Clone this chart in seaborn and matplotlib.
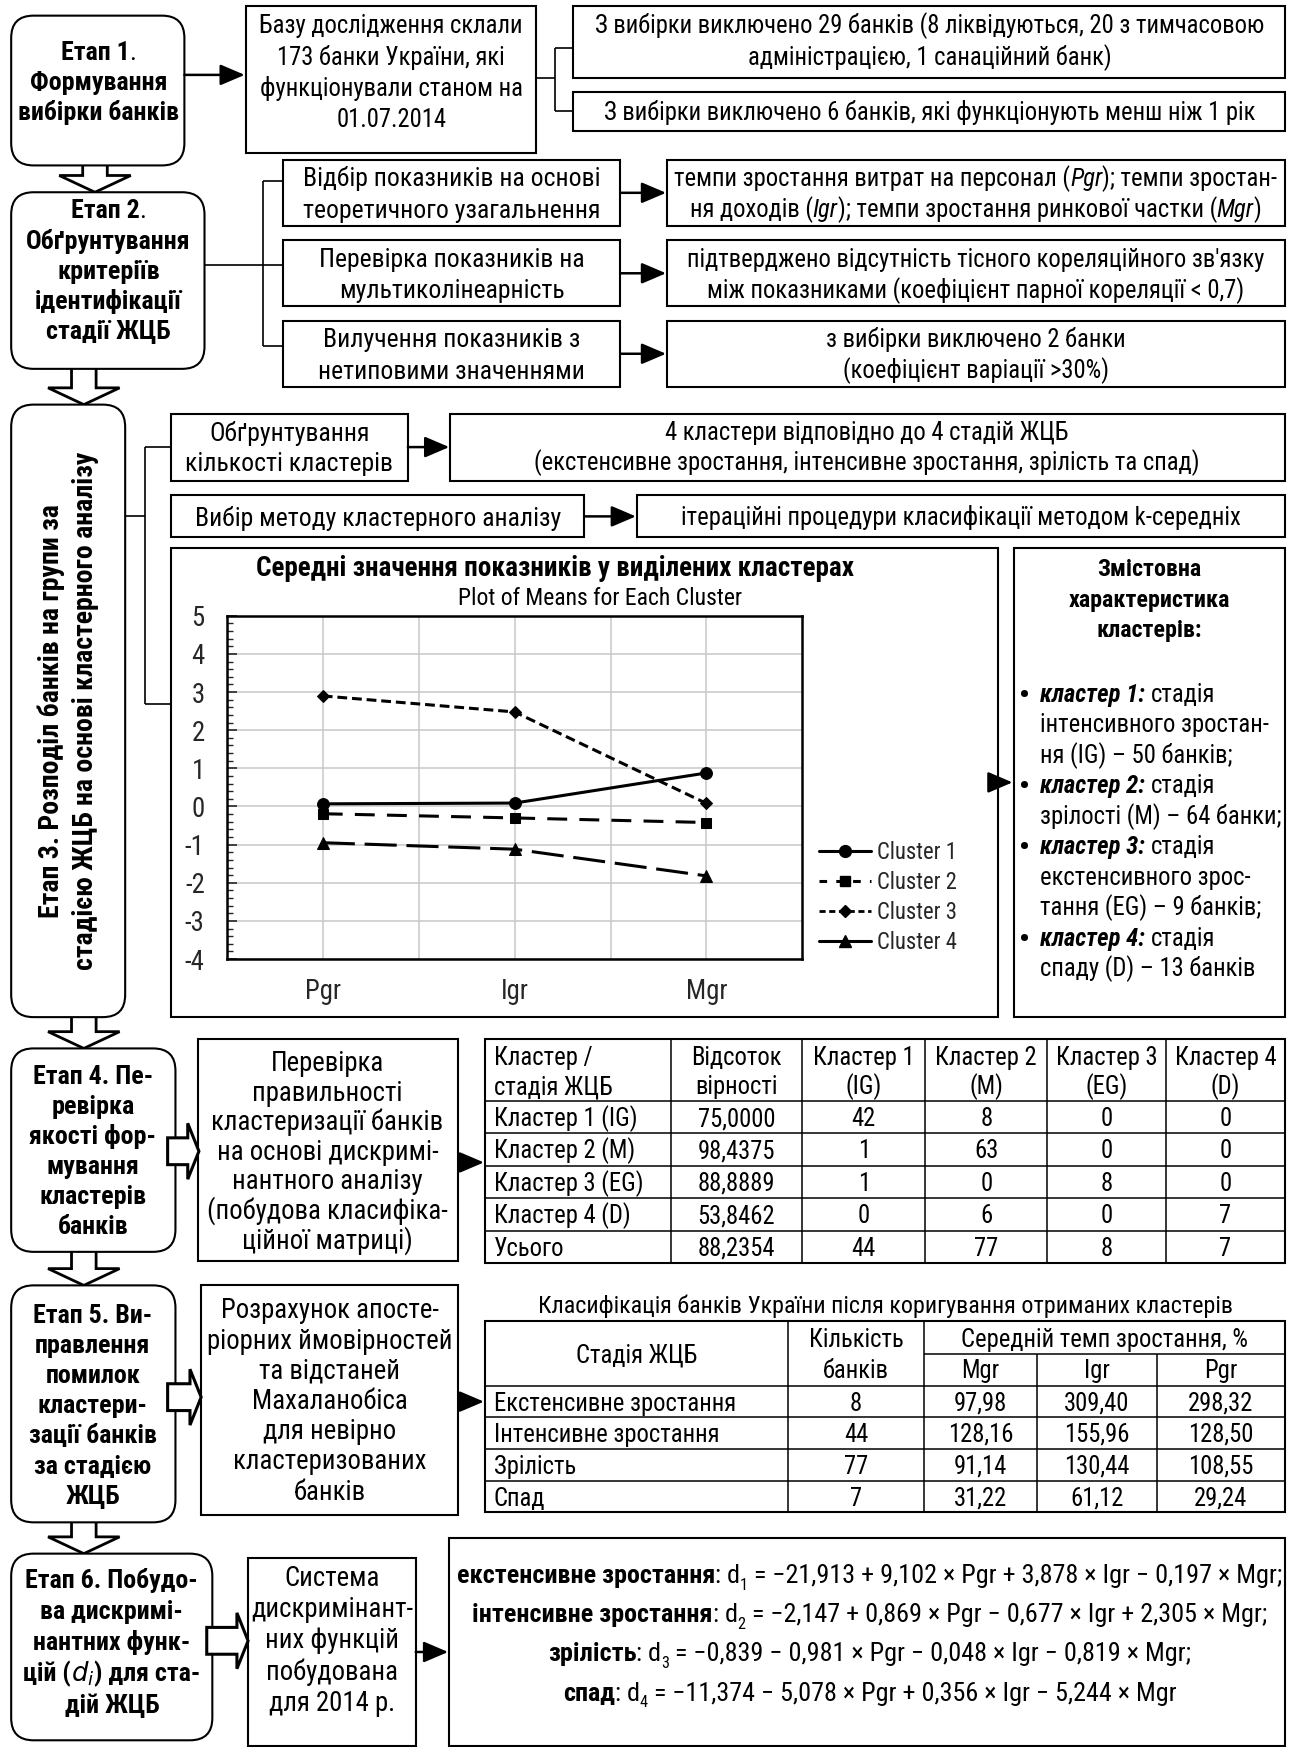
import numpy as np
import pandas as pd
import matplotlib
matplotlib.use("Agg")
import matplotlib.pyplot as plt
import seaborn as sns
from matplotlib import font_manager as fm
from matplotlib.patches import FancyBboxPatch, Rectangle, Polygon
from matplotlib.lines import Line2D
from matplotlib.transforms import ScaledTranslation
from matplotlib.ticker import MultipleLocator

# ---------------- data ----------------
features = ["Pgr", "Igr", "Mgr"]
cluster_labels = ["Cluster 1", "Cluster 2", "Cluster 3", "Cluster 4"]
cluster1_means = [0.07, 0.09, 0.88]
cluster2_means = [-0.19, -0.30, -0.42]
cluster3_means = [2.90, 2.48, 0.08]
cluster4_means = [-0.95, -1.12, -1.82]
y_ticks = [-4, -3, -2, -1, 0, 1, 2, 3, 4, 5]

matrix_columns = ["Кластер /\nстадія ЖЦБ", "Відсоток\nвірності", "Кластер 1\n(IG)",
                  "Кластер 2\n(M)", "Кластер 3\n(EG)", "Кластер 4\n(D)"]
matrix_rows = ["Кластер 1 (IG)", "Кластер 2 (M)", "Кластер 3 (EG)", "Кластер 4 (D)", "Усього"]
matrix_percent = ["75,0000", "98,4375", "88,8889", "53,8462", "88,2354"]
matrix_c1 = [42, 1, 1, 0, 44]
matrix_c2 = [8, 63, 0, 6, 77]
matrix_c3 = [0, 0, 8, 0, 8]
matrix_c4 = [0, 0, 0, 7, 7]

stage_names = ["Екстенсивне зростання", "Інтенсивне зростання", "Зрілість", "Спад"]
stage_bank_counts = [8, 44, 77, 7]
stage_mgr = ["97,98", "128,16", "91,14", "31,22"]
stage_igr = ["309,40", "155,96", "130,44", "61,12"]
stage_pgr = ["298,32", "128,50", "108,55", "29,24"]

# ---------------- setup ----------------
sns.set_theme(style="white")
names = {f.name for f in fm.fontManager.ttflist}
FAM, STRETCH = "Liberation Sans", "normal"
if "Liberation Sans Narrow" in names:
    FAM = "Liberation Sans Narrow"
elif "Arial Narrow" in names:
    FAM = "Arial Narrow"
elif "Roboto Condensed" in names:
    FAM = "Roboto Condensed"
elif any(f.name == "DejaVu Sans" and f.stretch in ("condensed", "semi-condensed")
         for f in fm.fontManager.ttflist):
    FAM, STRETCH = "DejaVu Sans", "condensed"
plt.rcParams["font.family"] = [FAM, "DejaVu Sans"]
plt.rcParams["font.stretch"] = STRETCH

W, H = 1157.0, 1563.0          # layout units
PXP = 1293.0 / W               # pixels per layout unit
DPI = 100
PT_P = PXP * 72 / DPI          # points per layout unit

fig = plt.figure(figsize=(12.93, 17.47), dpi=DPI)
fig.patch.set_facecolor("white")
ax = fig.add_axes([0, 0, 1, 1])
ax.set_xlim(0, W)
ax.set_ylim(H, 0)
ax.axis("off")
renderer = fig.canvas.get_renderer()

BASE_KW = dict(family=[FAM, "DejaVu Sans"], fontstretch=STRETCH, color="black")

_t = ax.text(0, 0, "функціонували станом на", fontsize=18, **BASE_KW)
_w = _t.get_window_extent(renderer).width
_t.remove()
SF = min(1.3, max(0.7, 237 * PXP / _w))

_space_cache = {}


def _kw(size, st):
    kw = dict(BASE_KW)
    kw["fontsize"] = size * st.get("scale", 1.0)
    kw["fontweight"] = st.get("w", "normal")
    kw["fontstyle"] = st.get("s", "normal")
    return kw


def _space(kw):
    key = (kw["fontsize"], kw["fontweight"], kw["fontstyle"])
    if key not in _space_cache:
        a = ax.text(0, 0, "n n", **kw)
        b = ax.text(0, 0, "nn", **kw)
        _space_cache[key] = a.get_window_extent(renderer).width - b.get_window_extent(renderer).width
        a.remove()
        b.remove()
    return _space_cache[key]


def rich(x, y, segs, ha="center", size=18.0, raw=False):
    if isinstance(segs, str):
        segs = [(segs, {})]
    size_pt = size if raw else size * SF
    ybase = y + 0.36 * size_pt / PT_P
    items, total = [], 0.0
    for s, st in segs:
        kw = _kw(size_pt, st)
        lead = len(s) - len(s.lstrip(" "))
        trail = len(s) - len(s.rstrip(" "))
        core = s.strip(" ")
        sp = _space(kw) if (lead or trail) else 0.0
        t = None
        w = 0.0
        if core:
            t = ax.text(x, ybase, core, ha="left", va="baseline", zorder=6, **kw)
            w = t.get_window_extent(renderer).width
        items.append((t, total + lead * sp, st.get("dy", 0.0)))
        total += lead * sp + w + trail * sp
    start = {"center": -total / 2, "left": 0.0, "right": -total}[ha]
    for t, off, dy in items:
        if t is None:
            continue
        t.set_transform(ax.transData + ScaledTranslation((start + off) / DPI, -dy * PXP / DPI,
                                                         fig.dpi_scale_trans))
    return total / PXP


def block(x, ys, lines, ha="center", size=18.0, bold=False):
    for y, ln in zip(ys, lines):
        if isinstance(ln, str):
            ln = [(ln, {"w": "bold"} if bold else {})]
        rich(x, y, ln, ha=ha, size=size)


def box(x0, y0, x1, y1, rounded=False, r=20, lw=1.5):
    if rounded:
        p = FancyBboxPatch((x0, y0), x1 - x0, y1 - y0, boxstyle=f"round,pad=0,rounding_size={r}",
                           fc="white", ec="black", lw=lw, zorder=2)
    else:
        p = Rectangle((x0, y0), x1 - x0, y1 - y0, fc="white", ec="black", lw=lw, zorder=2)
    ax.add_patch(p)


def seg(xs, ys, lw=1.2, z=3):
    ax.plot(xs, ys, color="black", lw=lw, solid_capstyle="butt", zorder=z)


def arrow(x0, y0, x1, y1):
    ax.annotate("", xy=(x1, y1), xytext=(x0, y0),
                arrowprops=dict(arrowstyle="-|>,head_length=0.75,head_width=0.32", lw=1.8,
                                color="black", shrinkA=0, shrinkB=0, mutation_scale=20),
                zorder=4)


def hollow_down(cx, y0, y1, sw=22, hw=64, hh=15):
    yh = y1 - hh
    pts = [(cx - sw / 2, y0), (cx + sw / 2, y0), (cx + sw / 2, yh), (cx + hw / 2, yh), (cx, y1),
           (cx - hw / 2, yh), (cx - sw / 2, yh)]
    ax.add_patch(Polygon(pts, closed=True, fc="white", ec="black", lw=2.0, zorder=1,
                         joinstyle="miter"))


def hollow_right(cy, x0, x1, sh=24, hh=50, hl=10):
    xh = x1 - hl
    pts = [(x0, cy - sh / 2), (xh, cy - sh / 2), (xh, cy - hh / 2), (x1, cy), (xh, cy + hh / 2),
           (xh, cy + sh / 2), (x0, cy + sh / 2)]
    ax.add_patch(Polygon(pts, closed=True, fc="white", ec="black", lw=2.2, zorder=3,
                         joinstyle="miter"))


B = {"w": "bold"}
N = {}
I = {"s": "italic"}
BI = {"w": "bold", "s": "italic"}
SZ = 18.0
SZB = 19.0     # stage boxes (bold)
SZL = 19.5     # left-side description boxes
SZT = 18.0     # tables

# ---------------- row 1 ----------------
box(10, 14, 165, 148, rounded=True)
block(88, [45, 72, 99], [[("Етап 1", B), (".", N)], "Формування", "вибірки банків"], size=SZB, bold=True)
arrow(165, 67, 219, 67)
box(220, 5, 480, 137)
block(350, [22, 50, 78, 106], ["Базу дослідження склали", "173 банки України, які",
                               "функціонували станом на", "01.07.2014"], size=SZ)
seg([480, 497], [70, 70])
seg([497, 497], [43, 99])
seg([497, 513], [43, 43])
seg([497, 513], [99, 99])
box(513, 5, 1150, 70)
block(832, [22, 50], ["З вибірки виключено 29 банків (8 ліквідуються, 20 з тимчасовою",
                      "адміністрацією, 1 санаційний банк)"], size=SZ)
box(513, 82, 1150, 117)
block(832, [99], ["З вибірки виключено 6 банків, які функціонують менш ніж 1 рік"], size=SZ)
hollow_down(85, 140, 172)

# ---------------- row 2 ----------------
box(10, 172, 183, 330, rounded=True)
block(97, [187, 214, 241, 268, 295], [[("Етап 2", B), (".", N)], "Обґрунтування", "критеріїв",
                                      "ідентифікації", "стадії ЖЦБ"], size=SZB, bold=True)
seg([183, 235], [237, 237])
seg([235, 235], [162, 310])
for yy in (162, 237, 310):
    seg([235, 253], [yy, yy])
left2 = [["Відбір показників на основі", "теоретичного узагальнення"],
         ["Перевірка показників на", "мультиколінеарність"],
         ["Вилучення показників з", "нетиповими значеннями"]]
right2 = [[[("темпи зростання витрат на персонал (", N), ("Pgr", I), ("); темпи зростан-", N)],
           [("ня доходів (", N), ("Igr", I), ("); темпи зростання ринкової частки (", N), ("Mgr", I),
            (")", N)]],
          ["підтверджено відсутність тісного кореляційного зв'язку",
           "між показниками (коефіцієнт парної кореляції < 0,7)"],
          ["з вибірки виключено 2 банки", "(коефіцієнт варіації >30%)"]]
for k, (y0, y1) in enumerate([(143, 202), (215, 274), (287, 346)]):
    box(253, y0, 555, y1)
    box(597, y0, 1150, y1)
    yc = (y0 + y1) / 2
    arrow(555, yc, 596, yc)
    block(404, [yc - 14, yc + 14], left2[k], size=18.8)
    block(873, [yc - 14, yc + 14], right2[k], size=SZ)
hollow_down(75, 322, 362)

# ---------------- row 3 ----------------
box(10, 362, 112, 910, rounded=True)
ax.text(61, 636, "Етап 3. Розподіл банків на групи за\nстадією ЖЦБ на основі кластерного аналізу",
        rotation=90, ha="center", va="center", multialignment="center", fontweight="bold",
        fontsize=20.3 * SF, linespacing=1.3, zorder=6, **BASE_KW)
seg([112, 130], [462, 462])
seg([130, 130], [400, 630])
seg([130, 153], [400, 400])
seg([130, 153], [630, 630])
box(153, 370, 365, 430)
block(259, [386, 413], ["Обґрунтування", "кількості кластерів"], size=18.8)
arrow(365, 400, 402, 400)
box(403, 370, 1150, 430)
block(776, [386, 413], ["4 кластери відповідно до 4 стадій ЖЦБ",
                        "(екстенсивне зростання, інтенсивне зростання, зрілість та спад)"], size=SZ)
box(153, 443, 523, 480)
block(338, [462], ["Вибір методу кластерного аналізу"], size=18.8)
arrow(523, 462, 569, 462)
box(570, 443, 1150, 480)
block(860, [462], ["ітераційні процедури класифікації методом k-середніх"], size=SZ)

# chart container
box(153, 490, 893, 910)
rich(497, 507, [("Середні значення показників у виділених кластерах", B)], size=19.8)
rich(537, 534, "Plot of Means for Each Cluster", size=17.2)

PL, PR, PT, PB = 203, 718, 551, 858
axc = fig.add_axes([PL / W, 1 - PB / H, (PR - PL) / W, (PB - PT) / H])
df = pd.DataFrame({
    "feature": features * 4,
    "pos": [i + 0.5 for i in range(len(features))] * 4,
    "value": cluster1_means + cluster2_means + cluster3_means + cluster4_means,
    "cluster": sum([[c] * len(features) for c in cluster_labels], []),
})
sns.lineplot(data=df, x="pos", y="value", hue="cluster", style="cluster", ax=axc,
             palette=["black"] * 4, markers=["o", "s", "D", "^"],
             dashes=["", (6.5, 4), (3.2, 1.6), (10.5, 3.2)], linewidth=2.2, markersize=8,
             markeredgecolor="black", legend=False)
msizes = [8.5, 7, 6.5, 8]
for ln, ms in zip(axc.lines, msizes):
    ln.set_markersize(ms)
axc.set_xlim(0, 3)
axc.set_ylim(-4, 5)
axc.set_xticks([i + 0.5 for i in range(len(features))])
axc.set_xticklabels(features)
axc.set_xticks([1, 2], minor=True)
axc.set_yticks(y_ticks)
axc.set_yticklabels([str(v) for v in y_ticks])
axc.yaxis.set_minor_locator(MultipleLocator(0.2))
axc.grid(False)
axc.xaxis.grid(True, which="both", color="#c8c8c8", lw=1.1)
axc.yaxis.grid(True, which="major", color="#c8c8c8", lw=1.1)
axc.set_axisbelow(True)
axc.set_xlabel("")
axc.set_ylabel("")
for s in axc.spines.values():
    s.set_color("black")
    s.set_linewidth(1.8)
axc.tick_params(axis="x", which="both", length=0, pad=14, labelsize=19.5 * SF)
axc.tick_params(axis="y", which="major", direction="in", length=7, width=1.2, left=True,
                right=False, pad=16, labelsize=19.5 * SF)
axc.tick_params(axis="y", which="minor", direction="in", length=4, width=1, left=True, right=False)
for lab in axc.get_xticklabels() + axc.get_yticklabels():
    lab.set_fontfamily([FAM, "DejaVu Sans"])
    lab.set_fontstretch(STRETCH)
axc.set_facecolor("white")

handles = [
    Line2D([], [], color="black", lw=2.2, marker="o", ms=8.5),
    Line2D([], [], color="black", lw=2.2, marker="s", ms=7, dashes=(2.5, 3)),
    Line2D([], [], color="black", lw=2.0, marker="D", ms=6.5, dashes=(2.2, 1.3)),
    Line2D([], [], color="black", lw=2.2, marker="^", ms=8),
]
fig.legend(handles, cluster_labels, loc="upper left", bbox_to_anchor=(733 / W, 1 - 752 / H),
           frameon=False, handlelength=2.3, handletextpad=0.25, labelspacing=0.32,
           borderaxespad=0, borderpad=0,
           prop=dict(family=[FAM, "DejaVu Sans"], stretch=STRETCH, size=16.5 * SF))

arrow(893, 700, 906, 700)
box(907, 490, 1150, 910)
block(1028, [508, 535, 562], ["Змістовна", "характеристика", "кластерів:"], size=17.5, bold=True)
char_lines = [
    (True, [("кластер 1:", BI), (" стадія", N)]),
    (False, "інтенсивного зростан-"),
    (False, "ня (IG) – 50 банків;"),
    (True, [("кластер 2:", BI), (" стадія", N)]),
    (False, "зрілості (M) – 64 банки;"),
    (True, [("кластер 3:", BI), (" стадія", N)]),
    (False, "екстенсивного зрос-"),
    (False, "тання (EG) – 9 банків;"),
    (True, [("кластер 4:", BI), (" стадія", N)]),
    (False, "спаду (D) – 13 банків"),
]
for k, (bul, ln) in enumerate(char_lines):
    yy = 620 + 27.3 * k
    if bul:
        rich(917, yy, [("•", B)], ha="center", size=22)
    rich(931, yy, ln, ha="left", size=SZ)
hollow_down(75, 902, 938)

# ---------------- row 4 ----------------
box(10, 938, 157, 1120, rounded=True)
block(83, [961 + 27 * k for k in range(6)],
      ["Етап 4. Пе-", "ревірка", "якості фор-", "мування", "кластерів", "банків"], size=SZB, bold=True)
hollow_right(1030, 150, 178)
box(177, 930, 410, 1128)
block(293, [950 + 26.4 * k for k in range(7)],
      ["Перевірка", "правильності", "кластеризації банків", "на основі дискримі-",
       "нантного аналізу", "(побудова класифіка-", "ційної матриці)"], size=SZL)
arrow(410, 1040, 433, 1040)

cols = [434, 600, 718, 828, 937, 1043, 1150]
rows = [930, 985, 1014, 1043, 1072, 1101, 1130]
ax.add_patch(Rectangle((cols[0], rows[0]), cols[-1] - cols[0], rows[-1] - rows[0], fc="white",
                       ec="black", lw=1.5, zorder=2))
for xx in cols[1:-1]:
    seg([xx, xx], [rows[0], rows[-1]], lw=1.1)
for yy in rows[1:-1]:
    seg([cols[0], cols[-1]], [yy, yy], lw=1.1)
for j, head in enumerate(matrix_columns):
    l1, l2 = head.split("\n")
    if j == 0:
        rich(442, 945, l1, ha="left", size=SZT)
        rich(442, 971, l2, ha="left", size=SZT)
    else:
        xc = (cols[j] + cols[j + 1]) / 2
        rich(xc, 945, l1, size=SZT)
        rich(xc, 971, l2, size=SZT)
for i, rname in enumerate(matrix_rows):
    yc = (rows[i + 1] + rows[i + 2]) / 2
    rich(442, yc, rname, ha="left", size=SZT)
    vals = [matrix_percent[i], matrix_c1[i], matrix_c2[i], matrix_c3[i], matrix_c4[i]]
    for j, v in enumerate(vals):
        rich((cols[j + 1] + cols[j + 2]) / 2, yc, str(v), size=SZT)
hollow_down(75, 1112, 1150)

# ---------------- row 5 ----------------
box(10, 1150, 157, 1362, rounded=True)
block(83, [1175 + 27 * k for k in range(7)],
      ["Етап 5. Ви-", "правлення", "помилок", "кластери-", "зації банків", "за стадією", "ЖЦБ"],
      size=SZB, bold=True)
hollow_right(1250, 150, 180)
box(180, 1150, 410, 1355)
block(295, [1171 + 27 * k for k in range(7)],
      ["Розрахунок апосте-", "ріорних ймовірностей", "та відстаней", "Махаланобіса",
       "для невірно", "кластеризованих", "банків"], size=SZL)
arrow(410, 1254, 433, 1254)

rich(792, 1167, "Класифікація банків України після коригування отриманих кластерів", size=17.5)
c2 = [434, 705, 827, 928, 1035, 1150]
r2 = [1182, 1240, 1268, 1296, 1325, 1353]
ax.add_patch(Rectangle((c2[0], r2[0]), c2[-1] - c2[0], r2[-1] - r2[0], fc="white", ec="black",
                       lw=1.5, zorder=2))
seg([c2[1], c2[1]], [r2[0], r2[-1]], lw=1.1)
seg([c2[2], c2[2]], [r2[0], r2[-1]], lw=1.1)
seg([c2[3], c2[3]], [1211, r2[-1]], lw=1.1)
seg([c2[4], c2[4]], [1211, r2[-1]], lw=1.1)
seg([c2[2], c2[-1]], [1211, 1211], lw=1.1)
for yy in r2[1:-1]:
    seg([c2[0], c2[-1]], [yy, yy], lw=1.1)
rich((c2[0] + c2[1]) / 2, 1211, "Стадія ЖЦБ", size=SZT)
rich((c2[1] + c2[2]) / 2, 1197, "Кількість", size=SZT)
rich((c2[1] + c2[2]) / 2, 1225, "банків", size=SZT)
rich((c2[2] + c2[-1]) / 2, 1197, "Середній темп зростання, %", size=SZT)
for j, lab in enumerate(["Mgr", "Igr", "Pgr"]):
    rich((c2[2 + j] + c2[3 + j]) / 2, 1225, lab, size=SZT)
for i, nm in enumerate(stage_names):
    yc = (r2[i + 1] + r2[i + 2]) / 2
    rich(442, yc, nm, ha="left", size=SZT)
    vals = [stage_bank_counts[i], stage_mgr[i], stage_igr[i], stage_pgr[i]]
    for j, v in enumerate(vals):
        rich((c2[1 + j] + c2[2 + j]) / 2, yc, str(v), size=SZT)
hollow_down(75, 1354, 1390)

# ---------------- row 6 ----------------
box(10, 1390, 190, 1557, rounded=True)
block(100, [1412 + 28 * k for k in range(5)],
      ["Етап 6. Побудо-", "ва дискримі-", "нантних функ-",
       [("цій (", B), ("$d_i$", {"scale": 1.0}), (") для ста-", B)], "дій ЖЦБ"],
      size=SZB, bold=True)
hollow_right(1468, 185, 222)
box(222, 1394, 372, 1562)
block(297, [1410 + 28 * k for k in range(5)],
      ["Система", "дискримінант-", "них функцій", "побудована", "для 2014 р."], size=SZL)
arrow(372, 1478, 401, 1478)
box(402, 1376, 1150, 1562)

SUB = {"scale": 0.62, "dy": 6}
formulas = [
    [("екстенсивне зростання", B), (": d", N), ("1", SUB),
     (" = −21,913 + 9,102 × Pgr + 3,878 × Igr − 0,197 × Mgr;", N)],
    [("інтенсивне зростання", B), (": d", N), ("2", SUB),
     (" = −2,147 + 0,869 × Pgr − 0,677 × Igr + 2,305 × Mgr;", N)],
    [("зрілість", B), (": d", N), ("3", SUB),
     (" = −0,839 − 0,981 × Pgr − 0,048 × Igr − 0,819 × Mgr;", N)],
    [("спад", B), (": d", N), ("4", SUB),
     (" = −11,374 − 5,078 × Pgr + 0,356 × Igr − 5,244 × Mgr", N)],
]
# fit the first formula line to its width in the original
_probe = rich(-2000, -2000, formulas[0], size=17)
for t in list(ax.texts):
    if t.get_position()[0] == -2000:
        t.remove()
fsz = 17 * SF * min(1.25, max(0.75, 736 / _probe))
for k, fl in enumerate(formulas):
    rich(778, 1408 + 35 * k, fl, size=fsz, raw=True)

fig.savefig("out.png", dpi=DPI, facecolor="white")
